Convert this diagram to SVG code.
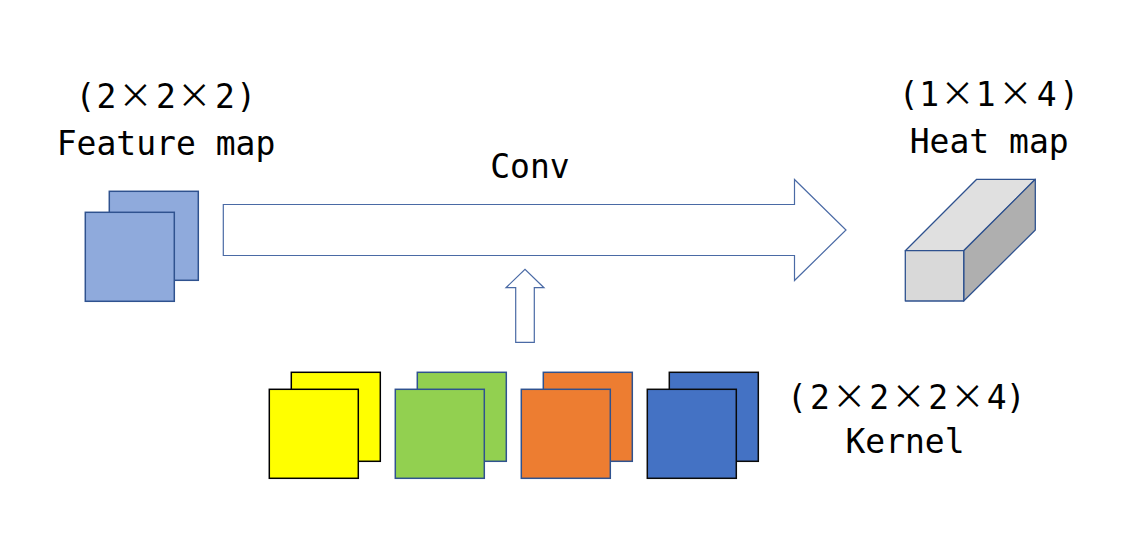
<svg xmlns="http://www.w3.org/2000/svg" width="1146" height="549" viewBox="0 0 1146 549">
  <style>
    .lbl { font-family: "DejaVu Sans Mono", "Liberation Mono", monospace; font-size: 33px; fill: #000; text-anchor: middle; }
    .x { font-family: "Noto Sans CJK SC", "DejaVu Sans", sans-serif; font-size: 34px; }
    .sq { stroke: #2f528f; stroke-width: 1.5; }
    .fm { fill: #8faadc; }
    .arrow { fill: #ffffff; stroke: #4a6aa5; stroke-width: 1.2; }
    .box { stroke: #2f528f; stroke-width: 1.3; stroke-linejoin: round; }
  </style>
  <rect width="1146" height="549" fill="#ffffff"/>

  <g id="feature-map">
    <text class="lbl" y="108"><tspan x="85.5">(</tspan><tspan x="106.5">2</tspan><tspan class="x" x="135.5">×</tspan><tspan x="166">2</tspan><tspan class="x" x="194.2">×</tspan><tspan x="225">2</tspan><tspan x="246.2">)</tspan></text>
    <text class="lbl" x="166" y="155">Feature map</text>
    <rect class="sq fm" x="109.3" y="191.3" width="89" height="89"/>
    <rect class="sq fm" x="85.3" y="212.3" width="89" height="89"/>
  </g>

  <g id="heat-map">
    <text class="lbl" y="106"><tspan x="908.8">(</tspan><tspan x="929.2">1</tspan><tspan class="x" x="957.5">×</tspan><tspan x="985.8">1</tspan><tspan class="x" x="1015.5">×</tspan><tspan x="1046.7">4</tspan><tspan x="1069.2">)</tspan></text>
    <text class="lbl" x="989.2" y="153">Heat map</text>
    <polygon class="box" fill="#e0e0e0" points="905.3,250.7 976.7,179.3 1035.3,179.3 963.7,250.7"/>
    <polygon class="box" fill="#afafaf" points="963.7,250.7 1035.3,179.3 1035.3,230 963.7,301"/>
    <rect class="box" fill="#d9d9d9" x="905.3" y="250.7" width="58.4" height="50.3"/>
  </g>

  <g id="kernel">
    <g id="kernel-yellow">
      <rect x="291.3" y="372.3" width="89" height="89" fill="#ffff00" stroke="#000" stroke-width="1.5"/>
      <rect x="269.3" y="389.3" width="89" height="89" fill="#ffff00" stroke="#000" stroke-width="1.5"/>
    </g>
    <g id="kernel-green">
      <rect class="sq" x="417.3" y="372.3" width="89" height="89" fill="#92d050"/>
      <rect class="sq" x="395.3" y="389.3" width="89" height="89" fill="#92d050"/>
    </g>
    <g id="kernel-orange">
      <rect class="sq" x="543.3" y="372.3" width="89" height="89" fill="#ed7d31"/>
      <rect class="sq" x="521.3" y="389.3" width="89" height="89" fill="#ed7d31"/>
    </g>
    <g id="kernel-blue">
      <rect x="669.3" y="372.3" width="89" height="89" fill="#4472c4" stroke="#0a0a0a" stroke-width="1.5"/>
      <rect x="647.3" y="389.3" width="89" height="89" fill="#4472c4" stroke="#0a0a0a" stroke-width="1.5"/>
    </g>
    <text class="lbl" y="409"><tspan x="797">(</tspan><tspan x="820">2</tspan><tspan class="x" x="849.2">×</tspan><tspan x="879.3">2</tspan><tspan class="x" x="908.5">×</tspan><tspan x="938.3">2</tspan><tspan class="x" x="967.5">×</tspan><tspan x="996.7">4</tspan><tspan x="1015.8">)</tspan></text>
    <text class="lbl" x="905" y="453">Kernel</text>
  </g>

  <g id="connectors">
    <polygon class="arrow" points="223.3,204.5 794.5,204.5 794.5,179.5 846,230 794.5,280.5 794.5,255.5 223.3,255.5"/>
    <text class="lbl" x="530" y="178">Conv</text>
    <polygon class="arrow" points="515.7,342.3 515.7,287.7 506,287.7 525,269.3 544,287.7 534.3,287.7 534.3,342.3"/>
  </g>
</svg>
